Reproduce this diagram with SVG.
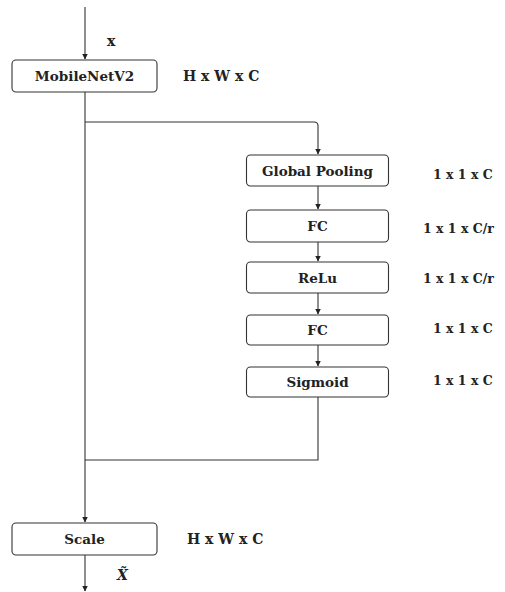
<svg xmlns="http://www.w3.org/2000/svg" width="505" height="592" viewBox="0 0 505 592">
<style>
.box{fill:#fff;stroke:#333;stroke-width:1.1}
.lbl{font-family:"DejaVu Serif","Liberation Serif",serif;font-size:13.5px;fill:#222;text-anchor:middle;dominant-baseline:central;font-weight:bold}
.dim{font-family:"DejaVu Serif","Liberation Serif",serif;font-size:12.5px;fill:#222;dominant-baseline:central;font-weight:bold}
.dimb{font-family:"DejaVu Serif","Liberation Serif",serif;font-size:14px;fill:#222;dominant-baseline:central;font-weight:bold}
.ln{fill:none;stroke:#333;stroke-width:1.1}
</style>
<defs>
<marker id="ah" markerWidth="6" markerHeight="7" refX="5.5" refY="3" orient="auto" markerUnits="userSpaceOnUse"><path d="M0,0 L6,3 L0,6 Z" fill="#222"/></marker>
</defs>
<rect width="505" height="592" fill="#fff"/>
<g id="connectors">
<path class="ln" d="M85,7 V59" marker-end="url(#ah)"/>
<path class="ln" d="M85,92 V522" marker-end="url(#ah)"/>
<path class="ln" d="M85,122 H314 Q318,122 318,126 V154" marker-end="url(#ah)"/>
<path class="ln" d="M318,186 V209" marker-end="url(#ah)"/>
<path class="ln" d="M318,242 V261" marker-end="url(#ah)"/>
<path class="ln" d="M318,293 V314" marker-end="url(#ah)"/>
<path class="ln" d="M318,345 V366" marker-end="url(#ah)"/>
<path class="ln" d="M318,397 V460 H85"/>
<path class="ln" d="M85,555 V591" marker-end="url(#ah)"/>
</g>
<g id="input-label"><text class="dimb" x="107" y="41" font-size="16">x</text></g>
<g id="mobilenet"><rect class="box" x="12" y="60" width="145" height="32" rx="4"/><text class="lbl" x="84.5" y="76">MobileNetV2</text><text class="dimb" x="183" y="76">H x W x C</text></g>
<g id="globalpool"><rect class="box" x="246.5" y="155" width="142" height="31" rx="4"/><text class="lbl" x="317.5" y="171">Global Pooling</text><text class="dim" x="433" y="174">1 x 1 x C</text></g>
<g id="fc1"><rect class="box" x="246.5" y="210" width="142" height="32" rx="4"/><text class="lbl" x="317.5" y="226">FC</text><text class="dim" x="423" y="228">1 x 1 x C/r</text></g>
<g id="relu"><rect class="box" x="246.5" y="262" width="142" height="31" rx="4"/><text class="lbl" x="317.5" y="278">ReLu</text><text class="dim" x="423" y="278">1 x 1 x C/r</text></g>
<g id="fc2"><rect class="box" x="246.5" y="315" width="142" height="30" rx="4"/><text class="lbl" x="317.5" y="330">FC</text><text class="dim" x="433" y="328">1 x 1 x C</text></g>
<g id="sigmoid"><rect class="box" x="246.5" y="367" width="142" height="30" rx="4"/><text class="lbl" x="317.5" y="382">Sigmoid</text><text class="dim" x="433" y="380">1 x 1 x C</text></g>
<g id="scale"><rect class="box" x="12" y="523" width="145" height="32" rx="4"/><text class="lbl" x="84.5" y="539">Scale</text><text class="dimb" x="187" y="539">H x W x C</text></g>
<g id="output-label"><text class="dimb" x="117" y="575" font-size="15" font-style="italic">X̃</text></g>
</svg>
